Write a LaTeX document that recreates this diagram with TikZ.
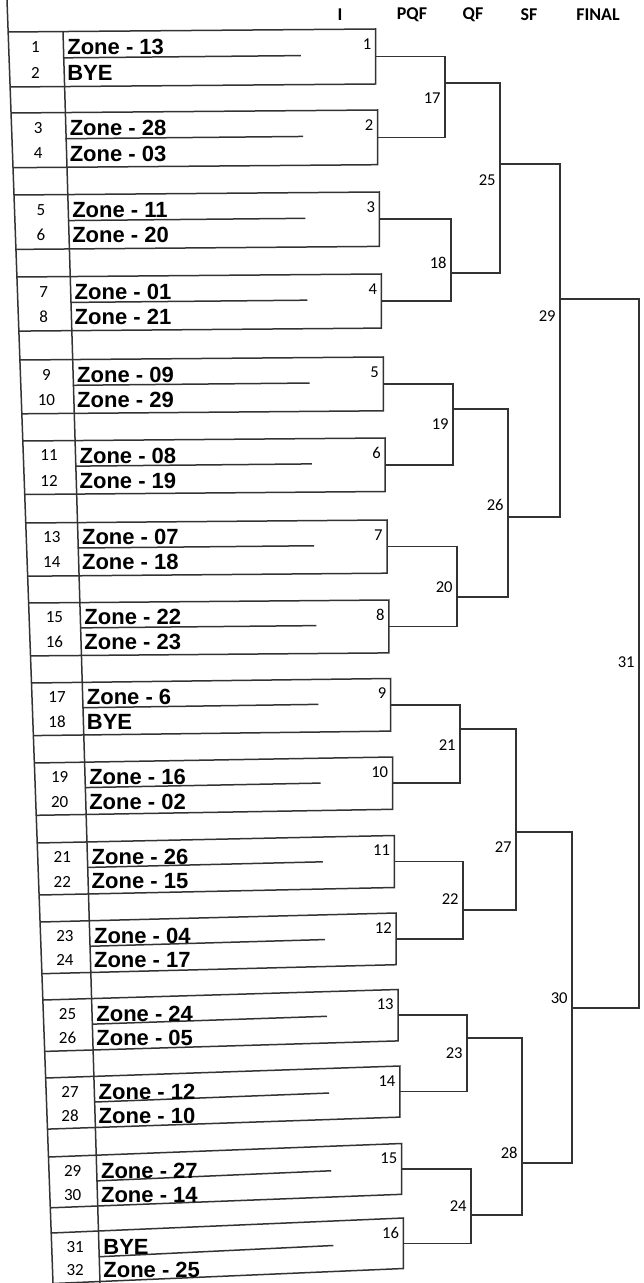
\documentclass[tikz,border=0pt]{standalone}
\usepackage{fontspec}
\setmainfont{Liberation Sans}
\newfontfamily\calibri{Carlito}

\begin{document}
\begin{tikzpicture}[
  x=0.5pt, y=-0.5pt,
  rule/.style={draw=black!80, line width=0.75pt},
  zone/.style={font=\bfseries\fontsize{11}{12}\selectfont, anchor=west, inner sep=0pt},
  seed/.style={font=\calibri\fontsize{8.5}{10}\selectfont, inner sep=0pt},
  game/.style={font=\calibri\fontsize{8.3}{10}\selectfont, anchor=east, inner sep=0pt},
  head/.style={font=\calibri\bfseries\fontsize{9}{10}\selectfont, inner sep=0pt}
]
  \useasboundingbox (0,0) rectangle (643,1283);

  % round headings
  \node[head] (hI) at (340,15) {I};
  \node[head] (hPQF) at (412,15) {PQF};
  \node[head] (hQF) at (473,15) {QF};
  \node[head] (hSF) at (529,15) {SF};
  \node[head] (hFINAL) at (598,15) {FINAL};

  % left columns of the draw sheet
  \draw[rule] (7,0) -- (53,1283);
  \draw[rule] (63,32) -- (100,1283);

  % first round blocks
  \foreach \ytop/\za/\zb [count=\blk] in {
    32/Zone - 13/BYE, 113/Zone - 28/Zone - 03, 195/Zone - 11/Zone - 20, 277/Zone - 01/Zone - 21,
    360/Zone - 09/Zone - 29, 441/Zone - 08/Zone - 19, 523/Zone - 07/Zone - 18, 603/Zone - 22/Zone - 23,
    683/Zone - 6/BYE, 763/Zone - 16/Zone - 02, 843/Zone - 26/Zone - 15, 922/Zone - 04/Zone - 17,
    1000/Zone - 24/Zone - 05, 1078/Zone - 12/Zone - 10, 1157/Zone - 27/Zone - 14, 1233/BYE/Zone - 25}{
    \pgfmathsetmacro\hh{55-0.3*(\blk-1)}
    \pgfmathsetmacro\tilt{-3-1.5*max(0,\blk-8)}
    \pgfmathsetmacro\ybot{\ytop+\hh}
    \pgfmathsetmacro\xout{7+0.036*\ytop}
    \pgfmathsetmacro\xoutb{7+0.036*\ybot}
    \pgfmathsetmacro\xin{62+0.03*\ytop}
    \pgfmathsetmacro\xrt{375+0.023*\ytop}
    \pgfmathsetmacro\xund{300+0.027*\ytop}
    \pgfmathsetmacro\yund{\ytop+0.47*\hh}
    \pgfmathtruncatemacro\sa{2*\blk-1}
    \pgfmathtruncatemacro\sb{2*\blk}
    \draw[rule] (\xout,\ytop) -- (\xrt,\ytop+\tilt) -- (\xrt,\ybot+\tilt) -- (\xoutb,\ybot);
    \draw[rule] (\xin,\yund) -- (\xund,\yund+0.75*\tilt);
    \coordinate (b\blk) at (\xrt,\ytop+\tilt+0.5*\hh);
    \node[seed] (s\sa) at ({(\xout+\xin)/2},\ytop+0.27*\hh) {\sa};
    \node[seed] (s\sb) at ({(\xout+\xin)/2},\ytop+0.74*\hh) {\sb};
    \node[zone] (z\sa) at (\xin+4,\ytop+0.27*\hh) {\za};
    \node[zone] (z\sb) at (\xin+4,\ytop+0.74*\hh) {\zb};
    \node[game] (g\blk) at (\xrt-4,\ytop+\tilt+15) {\blk};
  }

  % bracket: match / vertical x / exit y / label y / upper feed / lower feed
  \foreach \m/\xv/\yo/\yl/\ca/\cb in {
    17/445/83/98/b1/b2, 18/451/273/263/b3/b4, 19/453/409/424/b5/b6, 20/457/597/587/b7/b8,
    21/460/729/745/b9/b10, 22/463/910/899/b11/b12, 23/467/1038/1053/b13/b14, 24/471/1215/1206/b15/b16,
    25/500/164/180/w17/w18, 26/508/517/505/w19/w20, 27/516/832/847/w21/w22, 28/522/1163/1153/w23/w24,
    29/560/299/316/w25/w26, 30/572/1008/998/w27/w28, 31/639/662/662/w29/w30}{
    \coordinate (w\m) at (\xv,\yo);
    \draw[rule] (\ca) -| (w\m) |- (\cb);
    \node[game] (l\m) at (\xv-4,\yl) {\m};
  }
\end{tikzpicture}
\end{document}
